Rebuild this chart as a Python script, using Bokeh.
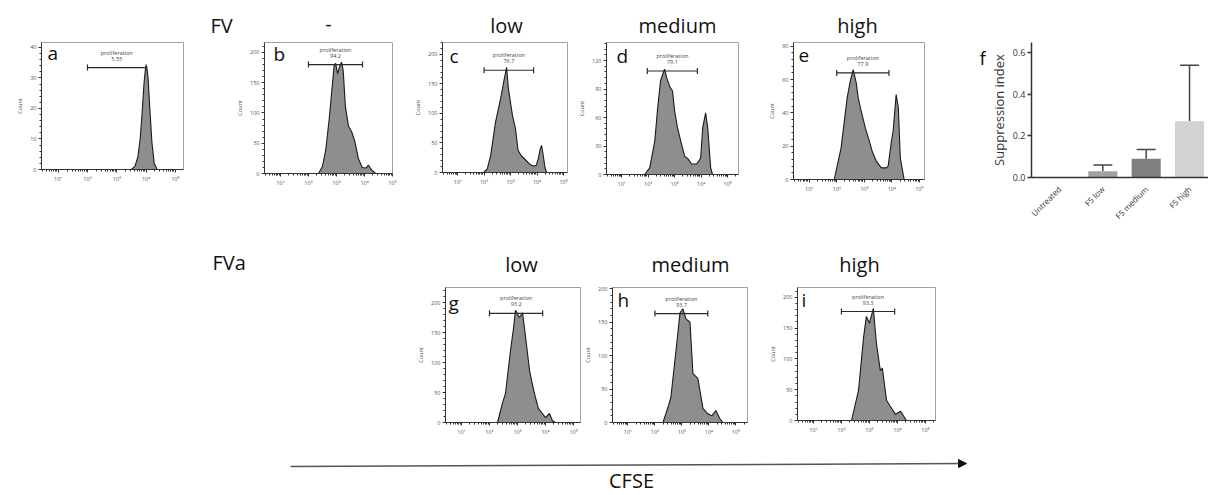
import math
from bokeh.plotting import figure
from bokeh.models import (Range1d, FixedTicker, Label, Arrow, NormalHead, Whisker, TeeHead,
                          ColumnDataSource, FactorRange, NumeralTickFormatter, Spacer)
from bokeh.layouts import column, row
from bokeh.embed import file_html
from bokeh.resources import INLINE
from bokeh.core.properties import value

# ---------------- data (x in log10 CFSE units, y = Count) ----------------
a_x = [3.50, 3.62, 3.72, 3.80, 3.87, 3.93, 3.98, 4.02, 4.07, 4.13, 4.20, 4.28, 4.38]
a_y = [0, 1, 4, 10, 19, 28, 33, 34, 30, 20, 9, 2, 0]

b_x = [2.36, 2.5, 2.62, 2.74, 2.84, 2.92, 2.97, 3.04, 3.12, 3.18, 3.24, 3.32, 3.43, 3.55, 3.66, 3.78, 3.92, 4.05, 4.14, 4.25, 4.4]
b_y = [0, 12, 40, 90, 140, 180, 182, 165, 178, 184, 170, 110, 78, 68, 52, 25, 10, 9, 14, 6, 0]

c_x = [1.98, 2.12, 2.25, 2.43, 2.62, 2.74, 2.85, 2.92, 3.0, 3.07, 3.19, 3.28, 3.38, 3.55, 3.72, 3.85, 3.97, 4.05, 4.12, 4.17, 4.23, 4.3, 4.36]
c_y = [0, 6, 29, 85, 124, 153, 178, 141, 118, 97, 73, 38, 30, 22, 14, 11, 12, 24, 40, 46, 30, 8, 0]

d_x = [1.87, 2.06, 2.25, 2.36, 2.47, 2.62, 2.7, 2.81, 2.92, 3.0, 3.11, 3.26, 3.38, 3.49, 3.64, 3.83, 3.98, 4.06, 4.17, 4.25, 4.36, 4.43]
d_y = [0, 7, 35, 70, 99, 111, 102, 93, 88, 67, 49, 32, 19, 17, 11, 11, 17, 49, 65, 49, 7, 0]

e_x = [1.91, 2.16, 2.38, 2.49, 2.6, 2.71, 2.78, 2.89, 3.04, 3.15, 3.29, 3.44, 3.62, 3.8, 3.87, 3.98, 4.05, 4.16, 4.24, 4.31, 4.45]
e_y = [0, 19, 49, 59, 66, 58, 49, 41, 31, 25, 17, 11, 7, 7, 8, 22, 29, 51, 43, 13, 0]

g_x = [2.29, 2.46, 2.57, 2.75, 2.86, 2.93, 3.07, 3.18, 3.29, 3.43, 3.54, 3.64, 3.75, 3.89, 4.0, 4.14, 4.25, 4.36]
g_y = [0, 32, 48, 120, 158, 187, 175, 183, 142, 87, 62, 42, 23, 15, 8, 15, 3, 0]

h_x = [2.3, 2.48, 2.59, 2.78, 2.93, 3.04, 3.15, 3.3, 3.41, 3.59, 3.78, 3.96, 4.11, 4.26, 4.4, 4.52]
h_y = [0, 22, 37, 107, 164, 170, 155, 150, 73, 66, 21, 13, 10, 18, 6, 0]

i_x = [2.36, 2.61, 2.79, 2.89, 3.0, 3.14, 3.25, 3.39, 3.46, 3.61, 3.79, 3.93, 4.11, 4.21, 4.32]
i_y = [0, 49, 135, 169, 158, 182, 125, 81, 85, 33, 20, 10, 15, 8, 0]

# gates: (low, high, level, percentage text)
gate_a = (2.0, 4.0, 33.4, "5.55")
gate_b = (2.0, 3.93, 180, "94.2")
gate_c = (2.0, 3.87, 173, "76.7")
gate_d = (1.97, 3.86, 109, "79.1")
gate_e = (2.0, 3.9, 64, "77.9")
gate_g = (2.0, 3.9, 182, "93.2")
gate_h = (2.0, 3.96, 163, "93.7")
gate_i = (2.0, 3.9, 177, "93.3")
gate_name = "proliferation"

decade_ticks = [1, 2, 3, 4, 5]
decade_labels = ["10\u00b9", "10\u00b2", "10\u00b3", "10\u2074", "10\u2075"]

# suppression index panel
supp_cats = ["Untreated", "F5 low", "F5 medium", "F5 high"]
supp_vals = [0.0, 0.03, 0.09, 0.27]
supp_upper = [0.0, 0.06, 0.135, 0.54]
supp_colors = ["#b0b0b0", "#a2a2a2", "#7f7f7f", "#d2d2d2"]
supp_ticks = [0.0, 0.2, 0.4, 0.6]

FONT = "Open Sans"
BASE_SHIFT = 0.4  # em; compensates the renderer's baseline placement

minor_x = [math.log10(k * 10 ** d) for d in range(0, 6) for k in range(2, 10)]


def hist_panel(letter, xs, ys, gate, ymax, ystep, xmax, fw, fh, bl, br, bt, bb, lx, lb):
    p = figure(frame_width=fw, frame_height=fh, min_border_left=bl, min_border_right=br,
               min_border_top=bt, min_border_bottom=bb,
               x_range=Range1d(0.43, xmax), y_range=Range1d(0, ymax),
               toolbar_location=None, output_backend="svg", title=None)
    p.grid.visible = False
    p.outline_line_color = "#a0a0a0"
    p.background_fill_color = "white"
    p.border_fill_color = "white"
    p.varea(x=xs, y1=[0] * len(xs), y2=ys, fill_color="#8e8e8e")
    p.line(xs, ys, line_color="#1a1a1a", line_width=1.1)
    lo, hi, lvl, pct = gate
    p.segment(x0=[lo], y0=[lvl], x1=[hi], y1=[lvl], line_color="#2a2a2a", line_width=1.2)
    p.scatter([lo, hi], [lvl, lvl], marker="dash", angle=math.pi / 2, size=6,
              line_color="#2a2a2a", line_width=1.2)
    mid = (lo + hi) / 2
    p.text(x=[mid], y=[lvl], text=[gate_name], y_offset=-15, text_align="center",
           text_baseline="alphabetic", text_font=value(FONT), text_font_size="5.5px", text_color="#444")
    p.text(x=[mid], y=[lvl], text=[pct], y_offset=-9, text_align="center",
           text_baseline="alphabetic", text_font=value(FONT), text_font_size="5.5px", text_color="#444")
    yt = [ystep * k for k in range(int(ymax // ystep) + 1)]
    ym = [ystep * k / 5 for k in range(int(ymax // ystep * 5) + 6) if (k % 5) and ystep * k / 5 <= ymax]
    p.xaxis.ticker = FixedTicker(ticks=decade_ticks, minor_ticks=minor_x)
    p.xaxis.major_label_overrides = {t: l for t, l in zip(decade_ticks, decade_labels)}
    p.yaxis.ticker = FixedTicker(ticks=yt, minor_ticks=ym)
    p.yaxis.axis_label = "Count"
    for ax in (p.xaxis[0], p.yaxis[0]):
        ax.axis_line_color = "#333"
        ax.major_tick_line_color = "#333"
        ax.minor_tick_line_color = "#333"
        ax.major_tick_out = 3
        ax.major_tick_in = 0
        ax.minor_tick_out = 2
        ax.minor_tick_in = 0
        ax.major_label_standoff = 2
        ax.major_label_text_font = FONT
        ax.major_label_text_font_size = "5.5px"
        ax.major_label_text_color = "#555"
    p.yaxis.axis_label_standoff = 3
    p.yaxis.axis_label_text_font = FONT
    p.yaxis.axis_label_text_font_size = "5.5px"
    p.yaxis.axis_label_text_font_style = "normal"
    p.yaxis.axis_label_text_color = "#555"
    p.add_layout(Label(x=lx, y=fh - lb + 19 * BASE_SHIFT, x_units="screen", y_units="screen", text=letter,
                       text_font=FONT, text_font_size="19px", text_color="#111",
                       text_baseline="alphabetic"))
    return p


# row 1 (starts at y=40): common top border 2 (frames start at y=42)
pa = hist_panel("a", a_x, a_y, gate_a, 41.6, 10, 5.28, 142, 127, 41, 49, 2, 71, 6, 18)
pb = hist_panel("b", b_x, b_y, gate_b, 216.5, 50, 5.0, 128, 131, 32, 18, 2, 67, 9, 19)
pc = hist_panel("c", c_x, c_y, gate_c, 220, 50, 5.15, 125, 130, 32, 8, 2, 68, 7, 21)
pd = hist_panel("d", d_x, d_y, gate_d, 139, 30, 5.41, 132, 132, 30, 23, 2, 66, 10, 21)
pe = hist_panel("e", e_x, e_y, gate_e, 82.3, 20, 5.19, 131, 137, 32, 49, 2, 61, 5, 21)
# row 2 (starts at y=282): common top border 5 (frames start at y=287)
pg = hist_panel("g", g_x, g_y, gate_g, 225, 50, 5.25, 135, 135, 32, 1, 5, 23, 3, 23)
ph = hist_panel("h", h_x, h_y, gate_h, 202, 50, 5.43, 135, 135, 29, 19, 5, 23, 5, 20)
pi_ = hist_panel("i", i_x, i_y, gate_i, 216, 50, 5.36, 138, 133, 30, 10, 5, 25, 4, 20)

# ---------------- panel f: suppression index ----------------
pf = figure(x_range=FactorRange(factors=supp_cats, range_padding=0.145, range_padding_units="absolute"),
            y_range=Range1d(0, 0.649), frame_width=186, frame_height=135,
            min_border_left=37, min_border_right=0, min_border_top=2, min_border_bottom=63,
            toolbar_location=None, output_backend="svg", title=None)
pf.grid.visible = False
pf.outline_line_color = None
src = ColumnDataSource(dict(cat=supp_cats, val=supp_vals, top=supp_upper, color=supp_colors))
pf.vbar(x="cat", top="val", width=0.67, source=src, fill_color="color", line_color=None)
wk = [k for k in range(len(supp_cats)) if supp_upper[k] > supp_vals[k]]
wsrc = ColumnDataSource(dict(cat=[supp_cats[k] for k in wk], val=[supp_vals[k] for k in wk],
                             top=[supp_upper[k] for k in wk]))
pf.add_layout(Whisker(base="cat", lower="val", upper="top", source=wsrc, dimension="height",
                      line_color="#444", line_width=1.5,
                      upper_head=TeeHead(size=19, line_color="#444", line_width=1.5),
                      lower_head=None))
pf.yaxis.ticker = FixedTicker(ticks=supp_ticks)
pf.yaxis.formatter = NumeralTickFormatter(format="0.0")
pf.yaxis.axis_label = "Suppression index"
pf.yaxis.axis_label_text_font = FONT
pf.yaxis.axis_label_text_font_size = "13px"
pf.yaxis.axis_label_text_font_style = "normal"
pf.yaxis.axis_label_text_color = "#333"
pf.yaxis.axis_label_standoff = 2
pf.yaxis.minor_tick_line_color = None
pf.yaxis.major_tick_out = 4
pf.yaxis.major_tick_in = 0
pf.yaxis.major_label_standoff = 2
for ax in (pf.xaxis[0], pf.yaxis[0]):
    ax.axis_line_color = "#333"
    ax.axis_line_width = 1.5
    ax.major_tick_line_color = "#333"
    ax.major_tick_line_width = 1.5
    ax.major_label_text_font = FONT
    ax.major_label_text_color = "#333"
pf.yaxis.major_label_text_font_size = "9px"
pf.xaxis.major_label_text_font_size = "8px"
pf.xaxis.major_label_orientation = math.pi / 4
pf.xaxis.major_tick_line_color = None
pf.xaxis.major_label_standoff = 4


# ---------------- text strips ----------------
def strip(w, h, top=0):
    s = figure(frame_width=w, frame_height=h, min_border=0, min_border_top=top,
               x_range=Range1d(0, w), y_range=Range1d(h, 0), toolbar_location=None,
               output_backend="svg", x_axis_location=None, y_axis_location=None, title=None)
    s.grid.visible = False
    s.outline_line_color = None
    return s


def put(s, x, y, t, align="center", size=20):
    s.text(x=[x], y=[y - BASE_SHIFT * size], text=[t], text_align=align, text_baseline="alphabetic",
           text_font=value(FONT), text_font_size=f"{size}px", text_color="#111")


# small strip holding the panel letter "f" (left of the bar chart axis)
pf_letter = strip(13, 198, top=2)
put(pf_letter, 6, 23, "f", "left", 19)

s1 = strip(1208, 40)
put(s1, 210, 33, "FV", "left")
put(s1, 328, 31, "-")
put(s1, 506, 33, "low")
put(s1, 677, 33, "medium")
put(s1, 857, 33, "high")

s2 = strip(1208, 42)
put(s2, 212, 30, "FVa", "left")
put(s2, 521, 32, "low")
put(s2, 690, 32, "medium")
put(s2, 859, 32, "high")

s3 = strip(1208, 50)
s3.add_layout(Arrow(x_start=290, y_start=21, x_end=966, y_end=18, line_color="#555", line_width=1.5,
                    end=NormalHead(size=8, fill_color="#111", line_color="#111")))
put(s3, 631, 43, "CFSE")

layout = column(
    s1,
    row(pa, pb, pc, pd, pe, pf_letter, pf),
    s2,
    row(Spacer(width=413, height=163), pg, ph, pi_),
    s3,
)

open("out.html", "w").write(file_html(layout, INLINE))
